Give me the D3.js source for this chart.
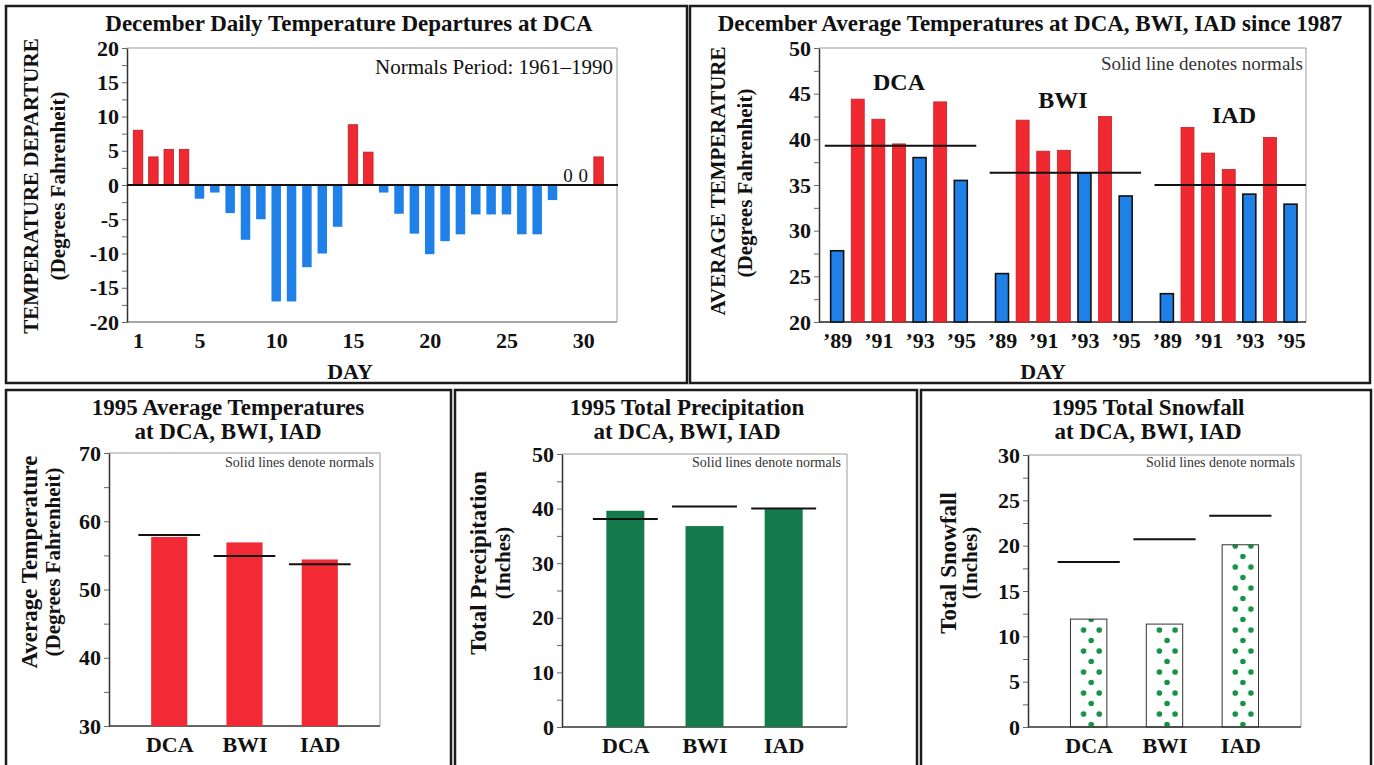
<!doctype html>
<html>
<head>
<meta charset="utf-8">
<script src="https://cdn.jsdelivr.net/npm/d3@7"></script>
<style>
  body { margin: 0; background: #fff; }
  svg { display: block; }
</style>
</head>
<body>
<svg id="chart" width="1374" height="765"></svg>
<script>
// --- December daily departures at DCA
var days = [1, 2, 3, 4, 5, 6, 7, 8, 9, 10, 11, 12, 13, 14, 15, 16, 17, 18, 19, 20, 21, 22, 23, 24, 25, 26, 27, 28, 29, 30, 31];
var departures = [8, 4.1, 5.2, 5.2, -2, -1.1, -4.1, -8, -5, -17, -17, -12, -10, -6.1, 8.8, 4.8, -1.1, -4.2, -7.1,
                  -10.1, -8.2, -7.2, -4.3, -4.3, -4.3, -7.2, -7.2, -2.2, 0, 0, 4.1];
var dayTicks = [1, 5, 10, 15, 20, 25, 30];

// --- December averages since 1987
var stations = ["DCA", "BWI", "IAD"];
var decYears = ["\u201989", "\u201990", "\u201991", "\u201992", "\u201993", "\u201994", "\u201995"];
var decLabelYears = ["\u201989", "\u201991", "\u201993", "\u201995"];
var decDCA = [27.8, 44.4, 42.2, 39.5, 38.0, 44.1, 35.5];
var decBWI = [25.3, 42.1, 38.7, 38.8, 36.3, 42.5, 33.8];
var decIAD = [23.1, 41.3, 38.5, 36.7, 34.0, 40.2, 32.9];
var decNormals = [39.3, 36.35, 35.0];

// --- 1995 annual values
var avg1995 = [57.7, 56.9, 54.4];
var avgNormals = [58.0, 54.9, 53.7];
var precip1995 = [39.6, 36.8, 39.9];
var precipNormals = [38.1, 40.4, 40.0];
var snow1995 = [11.9, 11.35, 20.1];
var snowNormals = [18.2, 20.7, 23.3];

var SERIF = '"Liberation Serif", "Times New Roman", serif';
var RED = "#f0282f", BLUE = "#1f80e8", GREEN = "#137a4b";

var svg = d3.select("#chart").attr("font-family", SERIF);

function panel(x, y, w, h) {
  svg.append("rect").attr("x", x).attr("y", y).attr("width", w).attr("height", h)
    .attr("fill", "#fff").attr("stroke", "#1c1c1c").attr("stroke-width", 2.5);
}

function label(x, y, str, size, weight, anchor, rot) {
  var t = svg.append("text").text(str)
    .attr("font-size", size).attr("font-weight", weight || "normal")
    .attr("text-anchor", anchor || "middle").attr("fill", "#111");
  if (rot) t.attr("transform", "translate(" + x + "," + y + ") rotate(-90)").attr("dy", "0.35em");
  else t.attr("x", x).attr("y", y);
  return t;
}

// light top/right frame plus dark bottom line
function plotFrame(x0, x1, y0, y1, bottomColor) {
  svg.append("path").attr("d", "M" + x0 + "," + y0 + "H" + x1 + "V" + y1)
    .attr("fill", "none").attr("stroke", "#9a9a9a").attr("stroke-width", 1);
  svg.append("line").attr("x1", x0).attr("x2", x1).attr("y1", y1).attr("y2", y1)
    .attr("stroke", bottomColor || "#333").attr("stroke-width", 1.3);
}

function yAxis(y, x0, step, major, size) {
  var d = y.domain();
  var vals = d3.range(Math.round((d[1] - d[0]) / step) + 1).map(function (i) { return d[0] + i * step; });
  var ax = d3.axisLeft(y).tickValues(vals).tickSizeInner(5).tickSizeOuter(0).tickPadding(3)
    .tickFormat(function (v) {
      return Math.abs(v / major - Math.round(v / major)) < 1e-6 ? String(v) : "";
    });
  var g = svg.append("g").attr("transform", "translate(" + x0 + ",0)").call(ax)
    .attr("font-family", SERIF).attr("font-size", size || 22).attr("font-weight", "bold");
  g.select(".domain").attr("stroke", "#333").attr("stroke-width", 1.5);
  g.selectAll(".tick line").attr("stroke", "#666");
  g.selectAll(".tick text").attr("fill", "#111");
  return g;
}

function xLabels(axis, y0) {
  var g = svg.append("g").attr("transform", "translate(0," + y0 + ")").call(axis)
    .attr("font-family", SERIF).attr("font-size", 22).attr("font-weight", "bold");
  g.select(".domain").remove();
  g.selectAll(".tick text").attr("fill", "#111");
  return g;
}

panel(6, 6, 681, 377);
panel(690, 6, 680, 377);
panel(6, 390, 445, 390);
panel(455, 390, 462, 390);
panel(921, 390, 450, 390);

// ================= Chart 1: daily departures
(function () {
  var L = 127, R = 617, T = 48, B = 322;
  var x = d3.scaleLinear().domain([0.28, 32.2]).range([L, R]);
  var y = d3.scaleLinear().domain([-20, 20]).range([B, T]);
  var bw = 15.3 * 0.62;
  plotFrame(L, R, T, B, "#8a8a8a");
  yAxis(y, L, 2.5, 5, 22);
  xLabels(d3.axisBottom(x).tickValues(dayTicks).tickSize(0).tickPadding(10), B);

  svg.append("g").selectAll("rect").data(days).join("rect")
    .filter(function (d, i) { return departures[i] !== 0; })
    .attr("x", function (d) { return x(d) - bw / 2; })
    .attr("width", bw)
    .attr("y", function (d) { return y(Math.max(0, departures[d - 1])); })
    .attr("height", function (d) { return Math.abs(y(departures[d - 1]) - y(0)); })
    .attr("fill", function (d) { return departures[d - 1] > 0 ? RED : BLUE; })
    .attr("stroke", function (d) { return departures[d - 1] > 0 ? "#b81e24" : "none"; })
    .attr("stroke-width", 0.8);

  svg.append("g").selectAll("text").data(days.filter(function (d) { return departures[d - 1] === 0; }))
    .join("text")
    .attr("x", function (d) { return x(d); }).attr("y", y(0) - 3)
    .attr("text-anchor", "middle").attr("font-size", 19).attr("fill", "#111")
    .text("0");

  svg.append("line").attr("x1", L).attr("x2", R + 1).attr("y1", y(0)).attr("y2", y(0))
    .attr("stroke", "#111").attr("stroke-width", 2);

  label(349, 31, "December Daily Temperature Departures at DCA", 23, "bold");
  label(613, 74, "Normals Period: 1961\u20131990", 21, "normal", "end");
  label(31, 186, "TEMPERATURE DEPARTURE", 21, "bold", "middle", true);
  label(58, 186, "(Degrees Fahrenheit)", 21, "bold", "middle", true);
  label(350, 379, "DAY", 22, "bold");
})();

// ================= Chart 2: December averages
(function () {
  var L = 819, R = 1306, T = 48, B = 322;
  var x = d3.scaleLinear().domain([-0.88, 22.75]).range([L, R]);
  var y = d3.scaleLinear().domain([20, 50]).range([B, T]);
  var bw = 20.6 * 0.63;
  var series = [decDCA, decBWI, decIAD];
  plotFrame(L, R, T, B, "#222");
  yAxis(y, L, 2.5, 5, 22);

  var idx = [];
  stations.forEach(function (s, g) {
    decLabelYears.forEach(function (yr) { idx.push(g * 8 + decYears.indexOf(yr)); });
  });
  xLabels(d3.axisBottom(x).tickValues(idx).tickSize(0).tickPadding(10)
    .tickFormat(function (i) { return decYears[i % 8]; }), B);

  var bars = [];
  series.forEach(function (vals, g) {
    vals.forEach(function (v, k) { bars.push({ g: g, k: k, v: v }); });
  });
  svg.append("g").selectAll("rect").data(bars).join("rect")
    .attr("x", function (d) { return x(d.g * 8 + d.k) - bw / 2; })
    .attr("width", bw)
    .attr("y", function (d) { return y(d.v); })
    .attr("height", function (d) { return y(20) - y(d.v); })
    .attr("fill", function (d) { return d.v > decNormals[d.g] ? RED : BLUE; })
    .attr("stroke", function (d) { return d.v > decNormals[d.g] ? "#c42026" : "#111"; })
    .attr("stroke-width", function (d) { return d.v > decNormals[d.g] ? 0.8 : 1.6; });

  svg.append("g").selectAll("line").data(decNormals).join("line")
    .attr("x1", function (d, g) { return Math.max(L + 2, x(g * 8 - 0.6)); })
    .attr("x2", function (d, g) { return Math.min(R, x(g * 8 + 6.75)); })
    .attr("y1", function (d) { return y(d); }).attr("y2", function (d) { return y(d); })
    .attr("stroke", "#111").attr("stroke-width", 2);

  var grpLabelPos = [[899, 90], [1063, 108], [1234, 123]];
  stations.forEach(function (s, g) { label(grpLabelPos[g][0], grpLabelPos[g][1], s, 24, "bold"); });

  label(1030, 31, "December Average Temperatures at DCA, BWI, IAD since 1987", 23, "bold");
  label(1303, 70, "Solid  line denotes normals", 19, "normal", "end").attr("fill", "#333");
  label(718, 181, "AVERAGE TEMPERATURE", 21, "bold", "middle", true);
  label(745, 183, "(Degrees Fahrenheit)", 21, "bold", "middle", true);
  label(1043, 379, "DAY", 22, "bold");
})();

// ================= Bottom charts
function stationChart(o) {
  var x = d3.scalePoint().domain(stations).range([o.L, o.R]).padding(0.8);
  var y = d3.scaleLinear().domain(o.domain).range([o.B, o.T]);
  var step = x.step(), bw = step * 0.48, nw = step * 0.82;
  plotFrame(o.L, o.R, o.T, o.B, "#333");
  yAxis(y, o.L, o.minor, o.major, 22);
  xLabels(d3.axisBottom(x).tickSize(0).tickPadding(10), o.B);

  var bars = svg.append("g").selectAll("rect").data(stations).join("rect")
    .attr("x", function (s) { return x(s) - bw / 2; })
    .attr("width", bw)
    .attr("y", function (s, i) { return y(o.values[i]); })
    .attr("height", function (s, i) { return o.B - y(o.values[i]); })
    .attr("fill", o.fill);
  if (o.pattern) {
    var defs = svg.append("defs");
    stations.forEach(function (s, i) {
      var p = defs.append("pattern").attr("id", "snow" + i).attr("patternUnits", "userSpaceOnUse")
        .attr("x", x(s) - bw / 2).attr("y", o.B).attr("width", bw).attr("height", 21);
      [[0.36, 8], [0.79, 8], [0.57, 18.5]].forEach(function (c) {
        p.append("circle").attr("cx", c[0] * bw).attr("cy", c[1]).attr("r", 2.8).attr("fill", "#169146");
      });
    });
    bars.attr("fill", function (s, i) { return "url(#snow" + i + ")"; })
      .attr("stroke", "#333").attr("stroke-width", 1);
  }

  svg.append("g").selectAll("line").data(stations).join("line")
    .attr("x1", function (s) { return x(s) - nw / 2; })
    .attr("x2", function (s) { return x(s) + nw / 2; })
    .attr("y1", function (s, i) { return y(o.normals[i]); })
    .attr("y2", function (s, i) { return y(o.normals[i]); })
    .attr("stroke", "#111").attr("stroke-width", 2);

  label(o.cx, 415, o.title[0], 23, "bold");
  label(o.cx, 439, o.title[1], 23, "bold");
  label(o.R - 6, 467, "Solid  lines denote normals", 14, "normal", "end").attr("fill", "#333");
  label(o.yl[0], o.yl[2], o.ylabel[0], 23, "bold", "middle", true);
  label(o.yl[1], o.yl[2], o.ylabel[1], 21, "bold", "middle", true);
}

stationChart({
  L: 109, R: 380, T: 453, B: 726, domain: [30, 70], minor: 5, major: 10,
  values: avg1995, normals: avgNormals, fill: "#f22a35",
  cx: 228, title: ["1995 Average Temperatures", "at DCA, BWI, IAD"],
  ylabel: ["Average Temperature", "(Degrees Fahrenheit)"], yl: [29, 53, 562]
});
stationChart({
  L: 562, R: 847, T: 454, B: 727, domain: [0, 50], minor: 5, major: 10,
  values: precip1995, normals: precipNormals, fill: GREEN,
  cx: 687, title: ["1995 Total Precipitation", "at DCA, BWI, IAD"],
  ylabel: ["Total Precipitation", "(Inches)"], yl: [478, 503, 563]
});
stationChart({
  L: 1028, R: 1301, T: 455, B: 727, domain: [0, 30], minor: 2.5, major: 5,
  values: snow1995, normals: snowNormals, fill: "#fff", pattern: true,
  cx: 1148, title: ["1995 Total Snowfall", "at DCA, BWI, IAD"],
  ylabel: ["Total Snowfall", "(Inches)"], yl: [948, 970, 563]
});
</script>
</body>
</html>
